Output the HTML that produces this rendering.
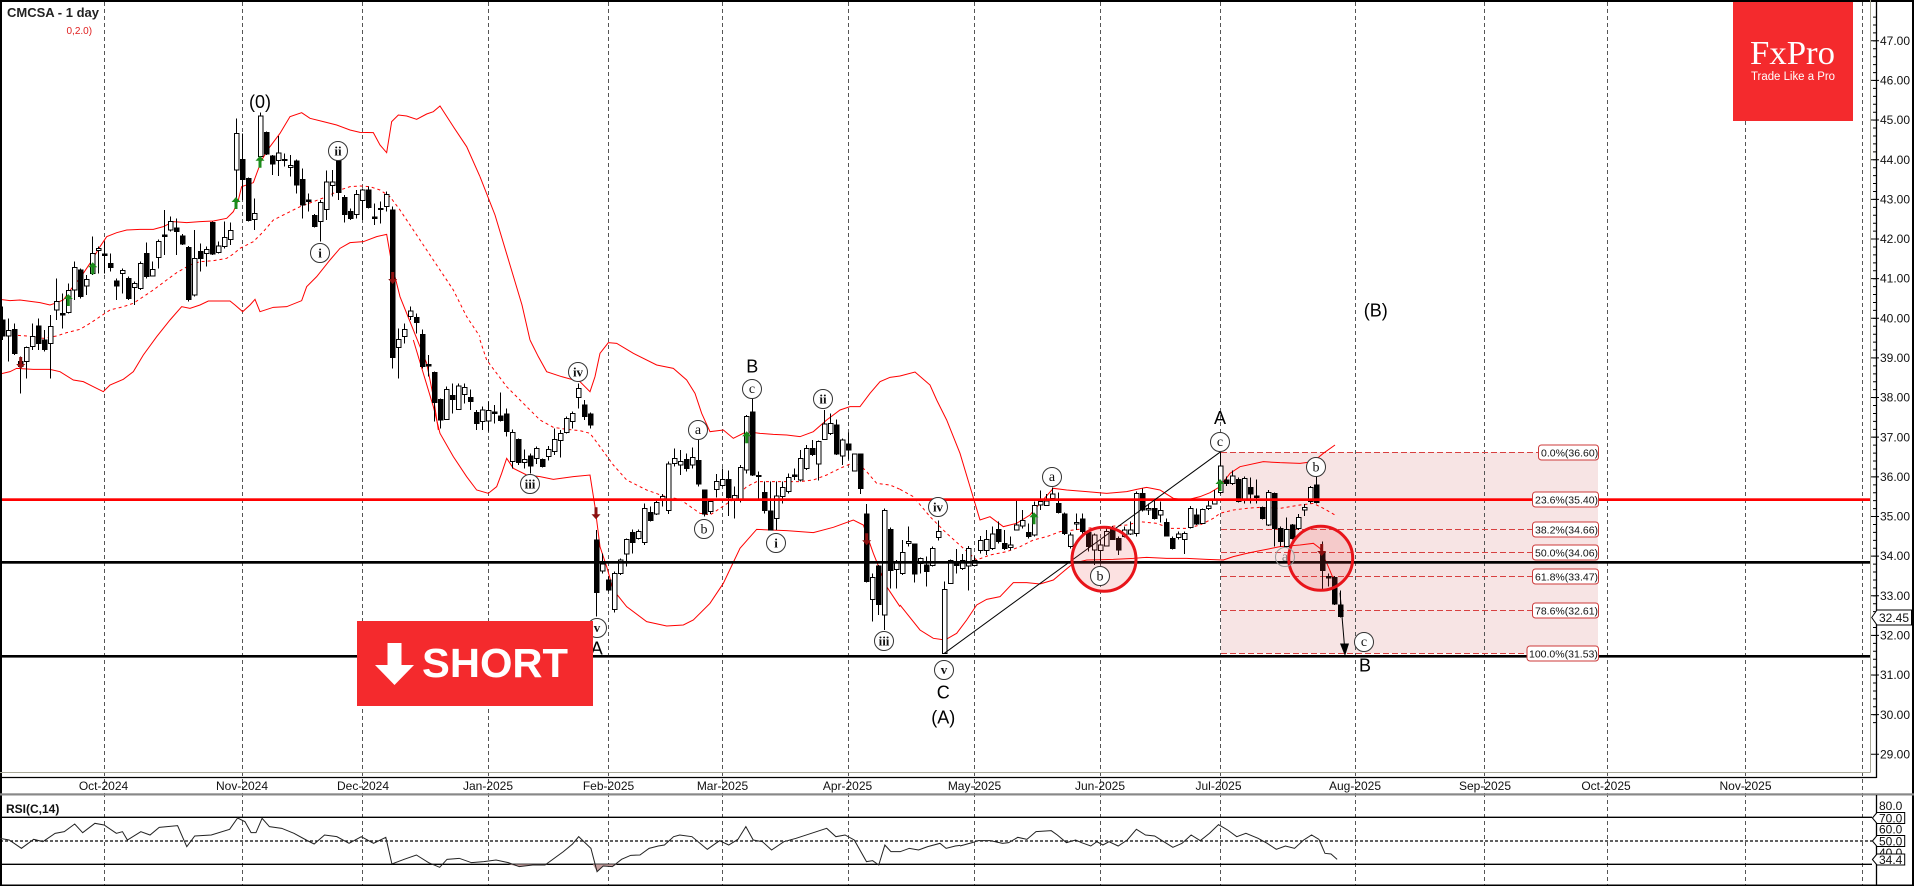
<!DOCTYPE html>
<html><head><meta charset="utf-8"><style>
html,body{margin:0;padding:0;background:#fff;}
svg{display:block;}
text{font-family:"Liberation Sans",sans-serif;}
text.ser{font-family:"Liberation Serif",serif;}
.ax{font-size:12px;fill:#111;}
</style></head><body>
<svg width="1914" height="886" viewBox="0 0 1914 886" xmlns="http://www.w3.org/2000/svg">
<defs>
<path id="gup" d="M0 -6 L-4.5 -1 H-1.5 V6 H1.5 V-1 H4.5 Z" fill="#1b8c1b"/>
<path id="rdn" d="M0 6 L-4.5 1 H-1.5 V-6 H1.5 V1 H4.5 Z" fill="#8b1010"/>
</defs>
<rect width="1914" height="886" fill="#fff"/>

<!-- fib box -->
<rect x="1221" y="452.3" width="377" height="201" fill="#f7e4e4"/>

<!-- grid -->
<g stroke="#555" stroke-width="1" stroke-dasharray="4 3">
<path d="M104.5 2V886M242.5 2V886M362.5 2V886M488.5 2V886M608.5 2V886M722.5 2V886M848.5 2V886M974.5 2V886M1100.5 2V886M1220.5 2V886M1355.5 2V886M1484.5 2V886M1607.5 2V886M1745.5 2V886M1862.5 2V886"/>
</g>

<!-- fib dashed lines -->
<g stroke="#d84040" stroke-width="1" stroke-dasharray="6 3" fill="none">
<path d="M1221 452.5H1539M1221 529.5H1533M1221 552.5H1533M1221 576.5H1533M1221 610.5H1533M1221 653.5H1527"/>
</g>

<!-- bollinger bands -->
<g fill="none" stroke="#ff0000" stroke-width="1">
<g transform="translate(0,90) scale(0.33333)">
<polyline vector-effect="non-scaling-stroke" points="0,628 30,632 60,630 120,638 150,645 165,640 190,630 215,595 240,565 270,520 300,470 320,440 350,428 380,420 420,418 460,418 490,410 520,395 560,398 600,395 640,393 680,385 700,365 715,330 725,290 760,278 785,210 810,170 840,130 870,80 905,68 930,85 970,95 1010,105 1050,120 1080,127 1120,128 1140,165 1160,188 1175,95 1195,75 1220,78 1250,88 1280,72 1300,65 1320,48 1360,110 1400,170 1440,260"/>
<polyline vector-effect="non-scaling-stroke" stroke-dasharray="3 3" points="0,738 40,735 80,738 130,745 170,738 200,728 240,718 270,700 300,680 330,660 370,650 400,640 430,620 460,600 500,570 530,548 570,525 600,515 640,512 680,505 700,492 720,475 760,455 790,425 820,390 860,370 900,350 940,335 980,320 1020,300 1050,290 1080,288 1110,290 1140,300 1170,320 1200,360 1240,420 1280,480 1320,540 1360,600 1400,680 1440,740"/>
<polyline vector-effect="non-scaling-stroke" points="0,852 30,845 50,835 100,838 150,838 180,845 220,870 250,875 280,890 310,905 330,885 370,868 400,845 430,795 470,740 510,690 545,650 570,655 600,645 625,633 690,633 705,645 728,665 750,645 765,628 780,665 820,652 860,650 905,632 920,590 950,560 990,510 1020,475 1050,458 1090,455 1130,440 1160,433 1175,520 1200,620 1240,720 1280,820 1300,920 1315,1020"/>
</g>
<polyline points="480,176.7 495,215 510,265 522,305 530,340"/>
<g transform="translate(380,340) scale(0.33333)">
<polyline vector-effect="non-scaling-stroke" points="450,0 475,50 500,95 545,110 600,125 630,155 645,110 660,40 685,8 710,10 760,40 830,75 880,85 920,120 945,160 965,220 990,275 1030,270 1060,295 1100,275 1140,280 1180,283 1220,285 1260,290 1300,275 1340,240 1380,210 1410,200 1440,200 1470,160 1500,125 1530,112 1560,108"/>
<polyline vector-effect="non-scaling-stroke" stroke-dasharray="3 3" points="300,0 320,60 350,100 380,140 430,190 480,240 520,262 560,268 600,272 630,280 660,320 700,375 740,420 800,450 850,468 900,478 960,520 990,525 1020,505 1060,478 1100,440 1130,425 1180,425 1220,425 1260,425 1300,420 1340,405 1380,385 1420,368 1440,375 1460,395 1490,430 1530,435 1560,448"/>
<polyline vector-effect="non-scaling-stroke" points="100,0 130,100 160,200 180,280 220,350 260,410 290,450 325,460 350,440 365,400 380,355 400,385 440,405 480,410 520,418 580,410 630,405 645,500 660,620 680,680 700,750 740,800 800,845 860,858 910,855 940,840 990,790 1030,730 1080,625 1130,568 1170,570 1220,572 1300,578 1360,562 1420,540 1450,555 1480,640 1520,740 1560,800"/>
</g>
<polyline points="900,376 915,372 930,385 936.7,400"/>
<g transform="translate(880,400) scale(0.33333)">
<polyline vector-effect="non-scaling-stroke" points="170,0 200,60 240,160 270,260 300,360 330,350 370,380 410,370 450,345 480,310 520,265 560,270 620,275 680,280 740,275 770,268 800,262 840,270 880,295 920,300 960,290 990,278 1020,260 1050,220 1080,200 1150,185 1200,188 1260,190 1300,185 1330,160 1365,135"/>
<polyline vector-effect="non-scaling-stroke" stroke-dasharray="3 3" points="60,268 100,290 150,350 200,400 250,445 290,480 330,465 380,455 420,440 460,420 500,410 540,395 580,390 620,385 680,380 740,375 780,365 830,370 870,385 920,385 960,375 1000,355 1020,340 1060,330 1100,325 1140,322 1200,325 1260,315 1300,310 1330,325 1365,345"/>
<polyline vector-effect="non-scaling-stroke" points="60,615 80,640 120,690 160,715 195,720 230,700 260,660 290,615 320,598 360,590 400,548 440,548 480,552 520,540 550,515 580,490 620,480 700,478 760,475 800,472 860,475 920,475 980,478 1030,480 1060,470 1100,460 1140,452 1200,440 1260,435 1300,430 1320,445 1345,500 1370,560"/>
</g>
</g>

<!-- candles group A -->
<g transform="matrix(6 0 0 0.33333 2.7 90)" shape-rendering="crispEdges">
<path vector-effect="non-scaling-stroke" stroke="#000" stroke-width="1" fill="none" d="M0 650V750M1 685V815M2 700V795M3 800V910M4 770V865M5 700V780M6 685V780M7 720V785M8 675V865M9 565V690M10 610V715M11 580V670M12 515V630M13 535V625M14 555V615M15 440V555M16 470V550M17 455V550M18 490V545M19 565V630M20 535V610M21 560V630M22 575V645M23 515V600M24 458V565M25 515V560M26 448V535M27 360V495M28 380V425M29 385V495M30 432V465M31 468V635M32 420V620M33 460V545M34 470V530M35 395V495M36 455V490M37 395V475M38 398V465M39 85V330M40 130V330M41 262V395M42 325V420M43 68V225M44 125V195M45 195V255M46 138V258M47 190V230M48 195V260M49 208V310M50 235V385M51 310V365M52 372V412M53 330V455M54 242V390M55 240V320M56 205V330M57 315V398M58 355V390M59 300V385M60 295V390M61 290V355M62 340V405M63 335V400M64 305V365M65 350V835M66 715V865M67 700V760M68 650V690M69 670V730M70 718V835M71 795V860M72 845V995M73 925V1015M74 890V990M75 880V970M76 880V960M77 880V940M78 898V960M79 960V1020"/>
<path vector-effect="non-scaling-stroke" stroke="#000" stroke-width="1" fill="#000" d="M-.4 690H.4V738H-.4Z M1.6 718H2.4V790H1.6Z M2.6 815H3.4V830H2.6Z M5.6 708H6.4V760H5.6Z M6.6 750H7.4V778H6.6Z M9.6 670H10.4V675H9.6Z M12.6 540H13.4V620H12.6Z M16.6 492H17.4V496H16.6Z M17.6 520H18.4V532H17.6Z M18.6 573H19.4V588H18.6Z M20.6 565H21.4V625H20.6Z M23.6 490H24.4V560H23.6Z M26.6 435H27.4V439H26.6Z M28.6 414H29.4V425H28.6Z M29.6 438H30.4V462H29.6Z M30.6 472H31.4V628H30.6Z M32.6 485H33.4V505H32.6Z M34.6 397H35.4V492H34.6Z M39.6 208H40.4V268H39.6Z M40.6 265H41.4V392H40.6Z M43.6 127H44.4V192H43.6Z M44.6 198H45.4V222H44.6Z M46.6 208H47.4V212H46.6Z M48.6 213H49.4V285H48.6Z M49.6 268H50.4V345H49.6Z M50.6 330H51.4V334H50.6Z M51.6 376H52.4V410H51.6Z M55.6 212H56.4V307H55.6Z M56.6 322H57.4V373H56.6Z M57.6 364H58.4V385H57.6Z M60.6 300H61.4V352H60.6Z M61.6 381H62.4V385H61.6Z M62.6 355H63.4V359H62.6Z M64.6 360H65.4V803H64.6Z M68.6 682H69.4V698H68.6Z M69.6 733H70.4V830H69.6Z M70.6 824H71.4V828H70.6Z M71.6 848H72.4V938H71.6Z M72.6 928H73.4V990H72.6Z M74.6 916H75.4V928H74.6Z M77.6 922H78.4V935H77.6Z M78.6 968H79.4V1000H78.6Z"/>
<path vector-effect="non-scaling-stroke" stroke="#000" stroke-width="1" fill="#fff" d="M.6 722H1.4V738H.6Z M3.6 772H4.4V815H3.6Z M4.6 740H5.4V770H4.6Z M7.6 710H8.4V760H7.6Z M8.6 635H9.4V660H8.6Z M10.6 602H11.4V668H10.6Z M11.6 532H12.4V600H11.6Z M13.6 568H14.4V588H13.6Z M14.6 490H15.4V550H14.6Z M15.6 475H16.4V482H15.6Z M19.6 542H20.4V550H19.6Z M21.6 580H22.4V592H21.6Z M22.6 520H23.4V595H22.6Z M24.6 538H25.4V558H24.6Z M25.6 455H26.4V502H25.6Z M27.6 395H28.4V420H27.6Z M31.6 505H32.4V615H31.6Z M33.6 478H34.4V490H33.6Z M35.6 468H36.4V488H35.6Z M36.6 442H37.4V470H36.6Z M37.6 422H38.4V448H37.6Z M38.6 130H39.4V240H38.6Z M41.6 370H42.4V388H41.6Z M42.6 78H43.4V200H42.6Z M45.6 189H46.4V212H45.6Z M47.6 226H48.4V232H47.6Z M52.6 338H53.4V395H52.6Z M53.6 276H54.4V358H53.6Z M54.6 276H55.4V286H54.6Z M58.6 314H59.4V374H58.6Z M59.6 300H60.4V332H59.6Z M63.6 314H64.4V350H63.6Z M65.6 748H66.4V772H65.6Z M66.6 718H67.4V740H66.6Z M67.6 663H68.4V680H67.6Z M73.6 898H74.4V988H73.6Z M75.6 888H76.4V958H75.6Z M76.6 893H77.4V913H76.6Z"/>
</g>

<!-- candles group B -->
<g transform="matrix(6 0 0 0.33333 2.7 340)" shape-rendering="crispEdges">
<path vector-effect="non-scaling-stroke" stroke="#000" stroke-width="1" fill="none" d="M80 200V270M81 185V275M82 195V250M83 158V245M84 205V290M85 268V385M86 295V375M87 328V385M88 340V400M89 320V372M90 355V383M91 318V362M92 265V345M93 270V352M94 230V280M95 215V265M96 130V205M97 180V240M98 218V265M99 570V830M100 640V700M101 710V755M102 695V818M103 655V705M104 595V680M105 568V640M106 568V598M107 490V615M108 500V545M109 480V525M110 462V500M111 365V522M112 325V380M113 330V405M114 340V395M115 322V385M116 300V440M117 448V530M118 480V522M119 402V472M120 385V440M121 392V528M122 440V535M123 375V488M124 225V400M125 175V408M126 395V475M127 425V520M128 425V572M129 425V570M130 425V490M131 400V460M132 385V420M133 330V425M134 315V390M135 300V348M136 302V422M137 210V300M138 220V285M139 238V345M140 295V375M141 278V358M142 340V395M143 340V462M144 492V727M145 700V845M146 675V825M147 505V870M148 562V745M149 660V745"/>
<path vector-effect="non-scaling-stroke" stroke="#000" stroke-width="1" fill="#000" d="M81.6 216H82.4V220H81.6Z M82.6 228H83.4V242H82.6Z M83.6 222H84.4V275H83.6Z M85.6 298H86.4V368H85.6Z M87.6 348H88.4V378H87.6Z M89.6 358H90.4V380H89.6Z M96.6 195H97.4V230H96.6Z M97.6 222H98.4V255H97.6Z M98.6 600H99.4V758H98.6Z M100.6 720H101.4V750H100.6Z M104.6 578H105.4V607H104.6Z M107.6 517H108.4V542H107.6Z M113.6 358H114.4V385H113.6Z M115.6 362H116.4V432H115.6Z M116.6 450H117.4V522H116.6Z M120.6 418H121.4V472H120.6Z M124.6 216H125.4V405H124.6Z M125.6 406H126.4V410H125.6Z M126.6 458H127.4V512H126.6Z M127.6 513H128.4V570H127.6Z M131.6 405H132.4V409H131.6Z M134.6 325H135.4V343H134.6Z M138.6 255H139.4V342H138.6Z M140.6 312H141.4V330H140.6Z M142.6 342H143.4V445H142.6Z M143.6 522H144.4V725H143.6Z M145.6 678H146.4V793H145.6Z M147.6 568H148.4V692H147.6Z"/>
<path vector-effect="non-scaling-stroke" stroke="#000" stroke-width="1" fill="#fff" d="M79.6 210H80.4V245H79.6Z M80.6 212H81.4V243H80.6Z M84.6 277H85.4V365H84.6Z M86.6 358H87.4V368H86.6Z M88.6 325H89.4V355H88.6Z M90.6 328H91.4V350H90.6Z M91.6 298H92.4V335H91.6Z M92.6 280H93.4V302H92.6Z M93.6 235H94.4V278H93.6Z M94.6 220H95.4V245H94.6Z M95.6 145H96.4V172H95.6Z M99.6 672H100.4V693H99.6Z M101.6 700H102.4V808H101.6Z M102.6 660H103.4V700H102.6Z M103.6 598H104.4V642H103.6Z M105.6 575H106.4V595H105.6Z M106.6 505H107.4V607H106.6Z M108.6 487H109.4V522H108.6Z M109.6 470H110.4V480H109.6Z M110.6 372H111.4V512H110.6Z M111.6 355H112.4V370H111.6Z M112.6 365H113.4V375H112.6Z M114.6 352H115.4V375H114.6Z M117.6 485H118.4V515H117.6Z M118.6 425H119.4V448H118.6Z M119.6 418H120.4V437H119.6Z M121.6 466H122.4V478H121.6Z M122.6 382H123.4V482H122.6Z M123.6 230H124.4V390H123.6Z M128.6 468H129.4V535H128.6Z M129.6 442H130.4V470H129.6Z M130.6 412H131.4V455H130.6Z M132.6 355H133.4V420H132.6Z M133.6 325H134.4V385H133.6Z M135.6 305H136.4V372H135.6Z M136.6 252H137.4V298H136.6Z M137.6 250H138.4V280H137.6Z M139.6 300H140.4V348H139.6Z M141.6 342H142.4V393H141.6Z M144.6 712H145.4V778H144.6Z M146.6 512H147.4V825H146.6Z M148.6 668H149.4V688H148.6Z"/>
</g>

<!-- candles group C -->
<g transform="matrix(6 0 0 0.33333 2.7 400)" shape-rendering="crispEdges">
<path vector-effect="non-scaling-stroke" stroke="#000" stroke-width="1" fill="none" d="M150 420V525M151 380V440M152 430V548M153 472V520M154 470V560M155 440V500M156 362V422M157 545V762M158 478V552M159 447V520M160 462V510M161 438V572M162 470V500M163 408V460M164 390V465M165 380V450M166 365V430M167 390V450M168 410V452M169 302V392M170 330V385M171 370V415M172 305V410M173 272V330M174 282V318M175 262V300M176 278V340M177 338V405M178 398V445M179 340V390M180 340V400M181 390V455M182 400V495M183 420V490M184 380V440M185 378V420M186 410V465M187 380V412M188 365V405M189 275V410M190 265V335M191 310V345M192 300V358M193 305V368M194 355V410M195 410V448M196 395V418M197 395V462M198 318V385M199 325V375M200 325V372M201 300V330M202 270V312M203 158V282M204 230V258M205 212V255M206 232V308M207 230V310M208 232V310M209 238V310M210 320V358M211 270V378M212 278V440M213 380V440M214 352V442M215 372V418M216 342V390M217 312V348M218 258V310M219 228V310M220 425V570M221 520V560M222 528V615M223 572V652"/>
<path vector-effect="non-scaling-stroke" stroke="#000" stroke-width="1" fill="#000" d="M151.6 432H152.4V522H151.6Z M153.6 495H154.4V515H153.6Z M158.6 485H159.4V497H158.6Z M165.6 388H166.4V425H165.6Z M166.6 430H167.4V445H166.6Z M170.6 397H171.4V410H170.6Z M175.6 310H176.4V338H175.6Z M176.6 342H177.4V400H176.6Z M179.6 357H180.4V395H179.6Z M180.6 398H181.4V440H180.6Z M184.6 385H185.4V418H184.6Z M185.6 415H186.4V450H185.6Z M189.6 280H190.4V330H189.6Z M191.6 325H192.4V355H191.6Z M193.6 368H194.4V408H193.6Z M194.6 415H195.4V445H194.6Z M198.6 345H199.4V372H198.6Z M203.6 240H204.4V250H203.6Z M205.6 238H206.4V305H205.6Z M207.6 262H208.4V282H207.6Z M208.6 288H209.4V292H208.6Z M209.6 322H210.4V355H209.6Z M211.6 280H212.4V385H211.6Z M212.6 385H213.4V425H212.6Z M214.6 375H215.4V415H214.6Z M218.6 255H219.4V308H218.6Z M219.6 455H220.4V512H219.6Z M220.6 530H221.4V534H220.6Z M221.6 532H222.4V612H221.6Z M222.6 615H223.4V650H222.6Z"/>
<path vector-effect="non-scaling-stroke" stroke="#000" stroke-width="1" fill="#fff" d="M149.6 458H150.4V520H149.6Z M150.6 425H151.4V430H150.6Z M152.6 475H153.4V490H152.6Z M154.6 445H155.4V497H154.6Z M155.6 395H156.4V413H155.6Z M156.6 568H157.4V760H156.6Z M157.6 482H158.4V550H157.6Z M159.6 482H160.4V505H159.6Z M160.6 445H161.4V498H160.6Z M161.6 482H162.4V497H161.6Z M162.6 422H163.4V452H162.6Z M163.6 418H164.4V452H163.6Z M164.6 402H165.4V445H164.6Z M167.6 435H168.4V442H167.6Z M168.6 375H169.4V390H168.6Z M169.6 362H170.4V378H169.6Z M171.6 316H172.4V405H171.6Z M172.6 305H173.4V315H172.6Z M173.6 303H174.4V316H173.6Z M174.6 282H175.4V296H174.6Z M177.6 405H178.4V440H177.6Z M178.6 368H179.4V372H178.6Z M181.6 405H182.4V450H181.6Z M182.6 435H183.4V452H182.6Z M183.6 395H184.4V438H183.6Z M186.6 390H187.4V410H186.6Z M187.6 390H188.4V402H187.6Z M188.6 280H189.4V400H188.6Z M190.6 325H191.4V330H190.6Z M192.6 332H193.4V345H192.6Z M195.6 402H196.4V412H195.6Z M196.6 400H197.4V418H196.6Z M197.6 325H198.4V382H197.6Z M199.6 328H200.4V370H199.6Z M200.6 318H201.4V325H200.6Z M201.6 300H202.4V312H201.6Z M202.6 198H203.4V278H202.6Z M204.6 228H205.4V250H204.6Z M206.6 235H207.4V298H206.6Z M210.6 278H211.4V375H210.6Z M213.6 388H214.4V440H213.6Z M215.6 352H216.4V385H215.6Z M216.6 322H217.4V330H216.6Z M217.6 262H218.4V305H217.6Z"/>
</g>

<!-- horizontal levels -->
<rect x="0" y="498.3" width="1870" height="2.7" fill="#ff0000"/>
<rect x="0" y="561" width="1870" height="2.7" fill="#000"/>
<rect x="0" y="655" width="1870" height="2.6" fill="#000"/>

<!-- wave line A -->
<line x1="944.3" y1="653.3" x2="1220.7" y2="451.7" stroke="#000" stroke-width="1"/>

<!-- red circles -->
<circle cx="1104" cy="559.3" r="32" fill="rgba(235,70,70,0.16)" stroke="#e8141a" stroke-width="3"/>
<circle cx="1320.7" cy="558.3" r="32" fill="rgba(235,70,70,0.16)" stroke="#e8141a" stroke-width="3"/>

<!-- arrow to B -->
<line x1="1340" y1="592.7" x2="1344.5" y2="646" stroke="#000" stroke-width="1"/>
<polygon points="1340,643.5 1349,643.5 1345,656" fill="#000"/>

<!-- signal arrows -->
<use href="#gup" x="236" y="203"/>
<use href="#gup" x="260" y="161.7"/>
<use href="#gup" x="68.3" y="300"/>
<use href="#gup" x="92.7" y="268.3"/>
<use href="#gup" x="746.7" y="437.3"/>
<use href="#gup" x="1034" y="518.3"/>
<use href="#gup" x="1220" y="485"/>
<use href="#rdn" x="20.7" y="363"/>
<use href="#rdn" x="392.7" y="278"/>
<use href="#rdn" x="596" y="513.3"/>
<use href="#rdn" x="866.7" y="539.3"/>
<use href="#rdn" x="1321.7" y="550"/>

<!-- circle labels -->
<g stroke="#333" stroke-width="1" fill="#fff">
<circle cx="338" cy="151" r="9.5"/><circle cx="320" cy="253" r="9.5"/><circle cx="578" cy="372" r="9.5"/><circle cx="530" cy="484" r="9.5"/><circle cx="597" cy="628" r="9.5"/><circle cx="752" cy="389" r="9.5"/><circle cx="698" cy="430" r="9.5"/><circle cx="704" cy="529" r="9.5"/><circle cx="823" cy="399" r="9.5"/><circle cx="776" cy="543" r="9.5"/><circle cx="884" cy="641" r="9.5"/><circle cx="938" cy="507" r="9.5"/><circle cx="944" cy="670" r="9.5"/><circle cx="1052" cy="477" r="9.5"/><circle cx="1100" cy="576" r="9.5"/><circle cx="1220" cy="442" r="9.5"/><circle cx="1316" cy="467" r="9.5"/><circle cx="1364" cy="642" r="9.5"/>
</g>
<circle cx="1285" cy="557" r="9.5" fill="none" stroke="#999" stroke-width="1"/>
<g font-size="13" font-weight="bold" text-anchor="middle" fill="#111">
<text class="ser" x="338" y="155.5">ii</text><text class="ser" x="320" y="257.5">i</text><text class="ser" x="578" y="376.5">iv</text><text class="ser" x="530" y="488.5">iii</text><text class="ser" x="597" y="632">v</text><text class="ser" x="823" y="403.5">ii</text><text class="ser" x="776" y="547.5">i</text><text class="ser" x="884" y="645.5">iii</text><text class="ser" x="938" y="511.5">iv</text><text class="ser" x="944" y="674">v</text>
</g>
<g font-size="14" text-anchor="middle" fill="#111">
<text class="ser" x="752" y="393">c</text><text class="ser" x="698" y="434">a</text><text class="ser" x="704" y="533.5">b</text><text class="ser" x="1052" y="481">a</text><text class="ser" x="1100" y="580.5">b</text><text class="ser" x="1220" y="446">c</text><text class="ser" x="1316" y="471.5">b</text><text class="ser" x="1364" y="646">c</text>
<text class="ser" x="1285" y="561" fill="#888">a</text>
</g>

<!-- wave letters -->
<g font-size="18" text-anchor="middle" fill="#000">
<text x="260" y="108">(0)</text>
<text x="752.3" y="372.5">B</text>
<text x="596.7" y="654.5">A</text>
<text x="1220" y="424">A</text>
<text x="943.3" y="698.5">C</text>
<text x="943.3" y="723.5">(A)</text>
<text x="1375.8" y="316.5">(B)</text>
<text x="1365" y="671.5">B</text>
</g>

<!-- fib labels -->
<g font-size="10.5" fill="#111">
<g fill="#fff" stroke="#cc3a3a" stroke-width="1">
<rect x="1538.5" y="445" width="60" height="15" rx="3"/>
<rect x="1532.5" y="492" width="66" height="15" rx="3"/>
<rect x="1532.5" y="522" width="66" height="15" rx="3"/>
<rect x="1532.5" y="545" width="66" height="15" rx="3"/>
<rect x="1532.5" y="569" width="66" height="15" rx="3"/>
<rect x="1532.5" y="603" width="66" height="15" rx="3"/>
<rect x="1527" y="646" width="71.5" height="15" rx="3"/>
</g>
<text x="1541" y="456.5">0.0%(36.60)</text>
<text x="1535" y="503.5">23.6%(35.40)</text>
<text x="1535" y="533.5">38.2%(34.66)</text>
<text x="1535" y="556.5">50.0%(34.06)</text>
<text x="1535" y="580.5">61.8%(33.47)</text>
<text x="1535" y="614.5">78.6%(32.61)</text>
<text x="1529" y="657.5">100.0%(31.53)</text>
</g>

<!-- SHORT button -->
<rect x="357" y="621" width="236" height="85" fill="#f42a2d"/>
<rect x="387.5" y="643" width="14" height="24" fill="#fff"/>
<polygon points="375,665 414,665 394.5,685" fill="#fff"/>
<text x="422" y="677" font-size="41" font-weight="bold" fill="#fff" textLength="146" lengthAdjust="spacingAndGlyphs">SHORT</text>

<!-- FxPro logo -->
<rect x="1733" y="0" width="120" height="121" fill="#f42a2d"/>
<text class="ser" x="1750" y="64" font-size="34" fill="#fff" textLength="85" lengthAdjust="spacingAndGlyphs" style="font-family:'Liberation Serif',serif">FxPro</text>
<text x="1751" y="80" font-size="11.5" fill="#fff" textLength="84" lengthAdjust="spacingAndGlyphs">Trade Like a Pro</text>

<!-- title -->
<text x="7" y="17" font-size="13" font-weight="bold" fill="#222">CMCSA - 1 day</text>
<text x="66.5" y="34" font-size="10" fill="#e02020">0,2.0)</text>

<!-- frame lines -->
<rect x="0" y="0" width="1914" height="2" fill="#000"/>
<rect x="0" y="0" width="2" height="886" fill="#000"/>
<line x1="1870.5" y1="0" x2="1870.5" y2="772.5" stroke="#a8a898" stroke-width="1"/>
<line x1="0" y1="772.5" x2="1870.5" y2="772.5" stroke="#a8a898" stroke-width="1"/>
<line x1="1876.5" y1="0" x2="1876.5" y2="778" stroke="#000" stroke-width="1.3"/>
<line x1="0" y1="777.5" x2="1876.5" y2="777.5" stroke="#000" stroke-width="1.3"/>
<rect x="1912" y="0" width="2" height="886" fill="#000"/>
<rect x="0" y="793.3" width="1914" height="2.2" fill="#888"/>
<rect x="0" y="884.5" width="1914" height="1.5" fill="#000"/>
<line x1="1876.5" y1="795" x2="1876.5" y2="885" stroke="#000" stroke-width="1.3"/>

<!-- price axis ticks -->
<path stroke="#000" stroke-width="1" fill="none" d="M1873 17.07h3.7m-3.7 7.928h3.7m-3.7 7.928h3.7m-3.7 7.928h3.7m-3.7 7.928h3.7m-3.7 7.928h3.7m-3.7 7.928h3.7m-3.7 7.928h3.7m-3.7 7.928h3.7m-3.7 7.928h3.7m-3.7 7.928h3.7m-3.7 7.928h3.7m-3.7 7.928h3.7m-3.7 7.928h3.7m-3.7 7.928h3.7m-3.7 7.928h3.7m-3.7 7.928h3.7m-3.7 7.928h3.7m-3.7 7.928h3.7m-3.7 7.928h3.7m-3.7 7.928h3.7m-3.7 7.928h3.7m-3.7 7.928h3.7m-3.7 7.928h3.7m-3.7 7.928h3.7m-3.7 7.928h3.7m-3.7 7.928h3.7m-3.7 7.928h3.7m-3.7 7.928h3.7m-3.7 7.928h3.7m-3.7 7.928h3.7m-3.7 7.928h3.7m-3.7 7.928h3.7m-3.7 7.928h3.7m-3.7 7.928h3.7m-3.7 7.928h3.7m-3.7 7.928h3.7m-3.7 7.928h3.7m-3.7 7.928h3.7m-3.7 7.928h3.7m-3.7 7.928h3.7m-3.7 7.928h3.7m-3.7 7.928h3.7m-3.7 7.928h3.7m-3.7 7.928h3.7m-3.7 7.928h3.7m-3.7 7.928h3.7m-3.7 7.928h3.7m-3.7 7.928h3.7m-3.7 7.928h3.7m-3.7 7.928h3.7m-3.7 7.928h3.7m-3.7 7.928h3.7m-3.7 7.928h3.7m-3.7 7.928h3.7m-3.7 7.928h3.7m-3.7 7.928h3.7m-3.7 7.928h3.7m-3.7 7.928h3.7m-3.7 7.928h3.7m-3.7 7.928h3.7m-3.7 7.928h3.7m-3.7 7.928h3.7m-3.7 7.928h3.7m-3.7 7.928h3.7m-3.7 7.928h3.7m-3.7 7.928h3.7m-3.7 7.928h3.7m-3.7 7.928h3.7m-3.7 7.928h3.7m-3.7 7.928h3.7m-3.7 7.928h3.7m-3.7 7.928h3.7m-3.7 7.928h3.7m-3.7 7.928h3.7m-3.7 7.928h3.7m-3.7 7.928h3.7m-3.7 7.928h3.7m-3.7 7.928h3.7m-3.7 7.928h3.7m-3.7 7.928h3.7m-3.7 7.928h3.7m-3.7 7.928h3.7m-3.7 7.928h3.7m-3.7 7.928h3.7m-3.7 7.928h3.7m-3.7 7.928h3.7m-3.7 7.928h3.7m-3.7 7.928h3.7m-3.7 7.928h3.7"/>
<path stroke="#000" stroke-width="1" fill="none" d="M1871 40.78h8m-8 39.64h8m-8 39.64h8m-8 39.64h8m-8 39.64h8m-8 39.64h8m-8 39.64h8m-8 39.64h8m-8 39.64h8m-8 39.64h8m-8 39.64h8m-8 39.64h8m-8 39.64h8m-8 39.64h8m-8 39.64h8m-8 39.64h8m-8 39.64h8m-8 39.64h8m-8 39.64h8"/>
<g class="ax">
<text x="1880" y="45">47.00</text><text x="1880" y="84.5">46.00</text><text x="1880" y="124.2">45.00</text><text x="1880" y="163.8">44.00</text><text x="1880" y="203.5">43.00</text><text x="1880" y="243.1">42.00</text><text x="1880" y="282.7">41.00</text><text x="1880" y="322.4">40.00</text><text x="1880" y="362">39.00</text><text x="1880" y="401.6">38.00</text><text x="1880" y="441.3">37.00</text><text x="1880" y="480.9">36.00</text><text x="1880" y="520.6">35.00</text><text x="1880" y="560.2">34.00</text><text x="1880" y="599.8">33.00</text><text x="1880" y="639.5">32.00</text><text x="1880" y="679.1">31.00</text><text x="1880" y="718.8">30.00</text><text x="1880" y="758.4">29.00</text>
</g>
<path d="M1871.7 617.5L1877 610H1911.5V625H1877Z" fill="#fff" stroke="#000" stroke-width="1"/>
<text x="1879" y="622" class="ax">32.45</text>

<!-- x axis labels -->
<g class="ax" text-anchor="middle">
<text x="103.5" y="790">Oct-2024</text><text x="242" y="790">Nov-2024</text><text x="363" y="790">Dec-2024</text><text x="488" y="790">Jan-2025</text><text x="608.5" y="790">Feb-2025</text><text x="722.5" y="790">Mar-2025</text><text x="847.5" y="790">Apr-2025</text><text x="974.5" y="790">May-2025</text><text x="1100" y="790">Jun-2025</text><text x="1218.5" y="790">Jul-2025</text><text x="1355" y="790">Aug-2025</text><text x="1485" y="790">Sep-2025</text><text x="1606" y="790">Oct-2025</text><text x="1745.5" y="790">Nov-2025</text>
</g>

<!-- RSI pane -->
<text x="6" y="813" font-size="12" font-weight="bold" fill="#111">RSI(C,14)</text>
<line x1="0" y1="817.3" x2="1872" y2="817.3" stroke="#000" stroke-width="1.4"/>
<line x1="0" y1="841" x2="1872" y2="841" stroke="#000" stroke-width="1.2" stroke-dasharray="3 2"/>
<line x1="0" y1="864.3" x2="1872" y2="864.3" stroke="#000" stroke-width="1.4"/>
<g transform="matrix(0.61237 0 0 0.33333 0 620)">
<polygon points="830,733 848,740 870,735 890,735 895,733" fill="#c8a0a0"/>
<polygon points="968,733 975,755 985,738 1000,740 1008,733" fill="#c8a0a0"/>
<polyline vector-effect="non-scaling-stroke" fill="none" stroke="#222" stroke-width="1" points="0,655 15,660 35,685 55,658 70,665 90,640 105,635 122,612 135,638 155,610 170,615 190,640 200,635 208,660 230,635 245,645 260,622 290,617 305,680 318,648 345,645 375,628 388,594 400,605 410,638 418,638 428,595 440,620 460,625 480,640 500,660 513,672 530,645 550,650 570,670 590,650 610,670 630,652 640,732 660,718 680,705 700,728 718,742 730,718 750,715 770,728 790,725 810,720 830,728 848,740 870,735 890,735 920,695 935,672 945,650 965,685 975,755 985,738 1000,740 1015,718 1030,706 1045,705 1060,685 1075,678 1085,675 1100,650 1110,645 1130,650 1155,688 1175,662 1190,675 1205,658 1218,620 1230,660 1245,665 1260,690 1280,665 1300,655 1325,640 1350,625 1365,650 1380,645 1395,660 1415,725 1425,722 1435,735 1445,675 1455,695 1470,695 1485,685 1500,690 1515,680 1535,670 1545,685 1560,678 1568,676"/>
</g>
<g transform="matrix(0.60827 0 0 0.33333 960 620)">
<polyline vector-effect="non-scaling-stroke" fill="none" stroke="#222" stroke-width="1" points="0,678 20,668 30,662 50,662 70,670 80,668 95,652 110,658 125,635 150,632 160,645 175,668 190,660 200,668 215,678 225,665 235,675 245,665 260,678 275,660 290,628 305,645 320,648 335,665 350,682 365,670 380,645 395,662 410,640 425,614 440,630 455,650 470,640 490,655 505,670 520,688 535,678 550,685 565,660 578,645 590,658 600,700 610,702 620,718"/>
</g>
<g class="ax">
<text x="1879" y="810">80.0</text>
<text x="1879" y="833.5">60.0</text>
<text x="1879" y="857">40.0</text>
</g>
<g fill="#fff" stroke="#000" stroke-width="1">
<path d="M1872.4 818L1877 812.5H1904.7V823.5H1877Z"/>
<path d="M1872.4 841L1877 835.5H1904.7V846.5H1877Z"/>
<path d="M1872.4 859.5L1877 854H1904.7V865H1877Z"/>
</g>
<g class="ax">
<text x="1879" y="822.3">70.0</text>
<text x="1879" y="845.3">50.0</text>
<text x="1879" y="863.8">34.4</text>
</g>
</svg>
</body></html>
